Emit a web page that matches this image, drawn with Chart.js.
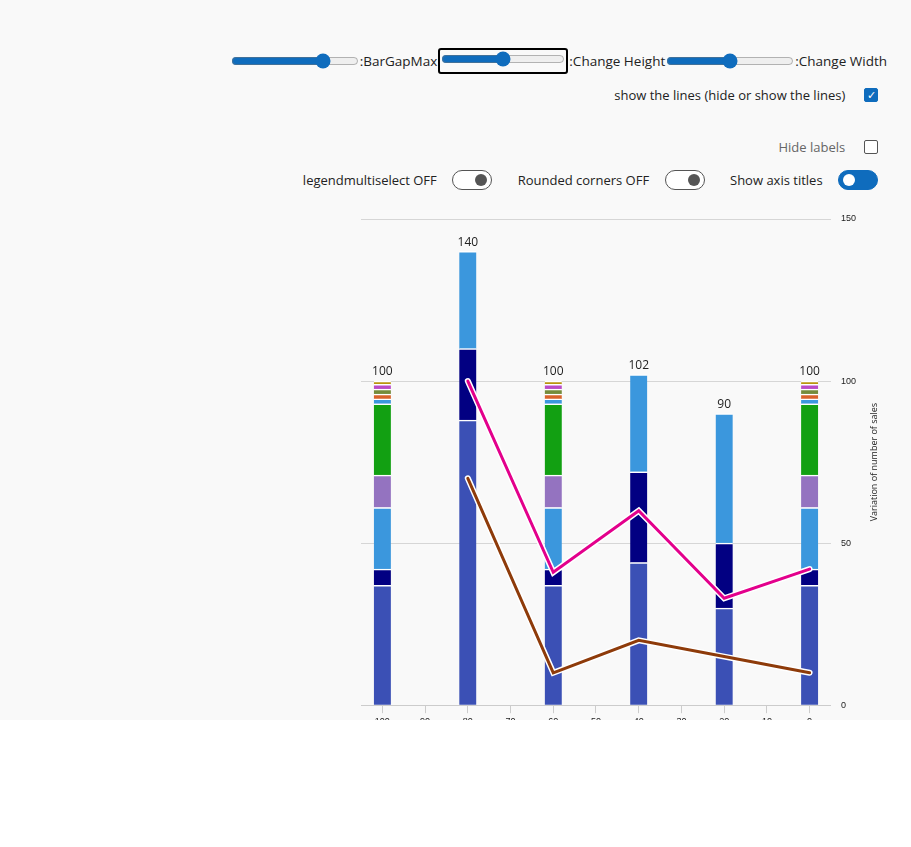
<!DOCTYPE html>
<html><head><meta charset="utf-8">
<script src="https://cdn.jsdelivr.net/npm/chart.js@4"></script>
<style>
body{margin:0;background:#fff;font-family:"Open Sans","Segoe UI",sans-serif;}
#wrap{position:relative;width:911px;height:720px;background:#f9f9f9;overflow:hidden;}
.row{position:absolute;right:32px;font-size:13px;color:#222;display:flex;align-items:center;gap:6px;}
input[type=range]{width:128px;margin:0;accent-color:#0f6cbd;}
.chk{width:14px;height:14px;border:1px solid #555;border-radius:2px;background:#fff;display:inline-block;box-sizing:border-box}
.chk.on{background:#0f6cbd;border-color:#0f6cbd;color:#fff;font-size:11px;line-height:12px;text-align:center}
.tg{width:40px;height:20px;border:1px solid #555;border-radius:10px;box-sizing:border-box;position:relative;background:#fff;display:inline-block}
.tg:after{content:"";position:absolute;left:22px;top:3px;width:12px;height:12px;border-radius:6px;background:#555}
.tg.on{background:#0f6cbd;border-color:#0f6cbd}
.tg.on:after{left:4px;background:#fff}
#cv{position:absolute;left:340px;top:200px;}
</style></head><body>
<div id="wrap">
<div class="row" style="top:48px;right:24px;gap:1px;font-size:13.5px">
<input type="range" value="75"><span>:BarGapMax</span>
<span style="border:2px solid #000;border-radius:3px;padding:1px"><input type="range" value="50" style="width:124px"></span><span>:Change Height</span>
<input type="range" value="50"><span>:Change Width</span>
</div>
<div class="row" style="top:86px;right:33px"><span>show the lines (hide or show the lines)</span>&nbsp;&nbsp;<span class="chk on">✓</span></div>
<div class="row" style="top:138px;right:33px"><span style="color:#666">Hide labels</span>&nbsp;&nbsp;<span class="chk"></span></div>
<div class="row" style="top:170px;right:33px">
<span>legendmultiselect OFF</span>&nbsp;<span class="tg"></span>&nbsp;&nbsp;&nbsp;&nbsp;
<span>Rounded corners OFF</span>&nbsp;<span class="tg"></span>&nbsp;&nbsp;&nbsp;&nbsp;
<span>Show axis titles</span>&nbsp;<span class="tg on"></span></div>
<canvas id="cv" width="548" height="530"></canvas>
</div>
<script>
// categories (x axis, reversed numeric labels)
var labels=['100','90','80','70','60','50','40','30','20','10','0'];
// stacked series (null = no bar at that label)
var sBlue   =[37,null,88,null,37,null,44,null,30,null,37];
var sNavy   =[5,null,22,null,5,null,28,null,20,null,5];
var sLight  =[19,null,30,null,19,null,30,null,40,null,19];
var sPurple =[10,null,null,null,10,null,null,null,null,null,10];
var sGreen  =[22,null,null,null,22,null,null,null,null,null,22];
var sSky    =[1.5,null,null,null,1.5,null,null,null,null,null,1.5];
var sOrange =[1.5,null,null,null,1.5,null,null,null,null,null,1.5];
var sOlive  =[1.5,null,null,null,1.5,null,null,null,null,null,1.5];
var sMagenta=[1.5,null,null,null,1.5,null,null,null,null,null,1.5];
var sGold   =[1,null,null,null,1,null,null,null,null,null,1];
var totals  =[100,null,140,null,100,null,102,null,90,null,100];
// lines
var linePink =[null,null,100,null,41,null,60,null,33,null,42];
var lineBrown=[null,null,70,null,10,null,20,null,15,null,10];

function bar(d,c){return {type:'bar',data:d,backgroundColor:c,borderColor:'#fff',borderWidth:{top:1.5},borderSkipped:false,barThickness:17,stack:'s',order:2};}
function line(d,c,w){return {type:'line',data:d,yAxisID:'y2',borderColor:c,borderWidth:w,pointRadius:0,spanGaps:true,fill:false,order:w>3?1:0,tension:0,borderCapStyle:'round'};}

var topLabels={id:'topLabels',afterDatasetsDraw:function(ch){
  var ctx=ch.ctx,x=ch.scales.x,y=ch.scales.y;
  ctx.save();ctx.fillStyle='#222';ctx.font='12px "Open Sans",sans-serif';ctx.textAlign='center';ctx.textBaseline='bottom';
  totals.forEach(function(t,i){if(t!=null)ctx.fillText(t,x.getPixelForValue(i),y.getPixelForValue(t)-3);});
  // axis title, reading bottom to top
  ctx.translate(ch.width-14,(y.top+y.bottom)/2);ctx.rotate(-Math.PI/2);
  ctx.font='9px "Open Sans",sans-serif';ctx.textBaseline='middle';
  ctx.fillText('Variation of number of sales',0,0);
  ctx.restore();
}};

new Chart(document.getElementById('cv'),{
  type:'bar',
  data:{labels:labels,datasets:[
    bar(sBlue,'#3b50b5'),bar(sNavy,'#020082'),bar(sLight,'#3b97dd'),bar(sPurple,'#9473c0'),bar(sGreen,'#12a012'),
    bar(sSky,'#3b97dd'),bar(sOrange,'#d9622b'),bar(sOlive,'#748b3a'),bar(sMagenta,'#b94bc7'),bar(sGold,'#b8960e'),
    line(linePink,'#fff',6),line(lineBrown,'#fff',6),
    line(linePink,'#e3008c',3),line(lineBrown,'#8e3b0a',3)
  ]},
  options:{responsive:false,animation:false,
    layout:{padding:{left:21,top:19,right:22}},
    plugins:{legend:{display:false},tooltip:{enabled:false}},
    scales:{
      x:{stacked:true,offset:true,grid:{offset:false,drawOnChartArea:false,color:'#ccc',tickLength:8},border:{color:'#ccc'},
         ticks:{font:{size:9},color:'#222'}},
      y:{stacked:true,position:'right',min:0,max:150,ticks:{stepSize:50,font:{size:9},color:'#222',padding:10},
         grid:{color:'#d6d6d6',drawTicks:false},border:{display:false}},
      y2:{display:false,stacked:false,min:0,max:150}
    }
  },
  plugins:[topLabels]
});
</script>
</body></html>
